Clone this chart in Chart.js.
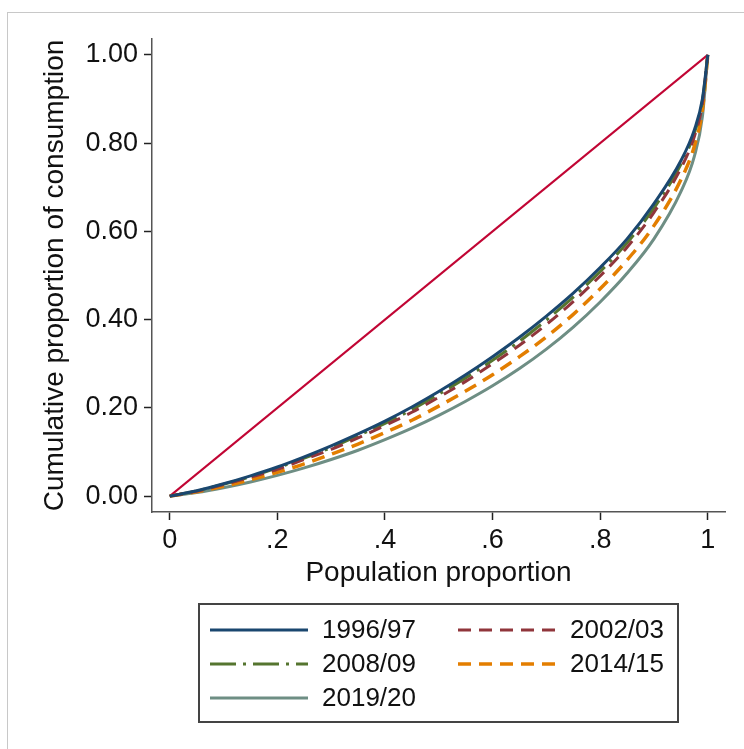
<!DOCTYPE html>
<html>
<head>
<meta charset="utf-8">
<title>Lorenz curves of consumption</title>
<script src="https://cdn.jsdelivr.net/npm/chart.js@4.4.1/dist/chart.umd.min.js"></script>
<style>
  html, body { margin: 0; padding: 0; background: #fff; }
  #wrap { position: relative; width: 744px; height: 749px; overflow: hidden; }
  #frame { position: absolute; left: 7px; top: 12px; width: 800px; height: 800px;
           border-left: 1px solid #c8c8c8; border-top: 1px solid #c8c8c8; }
  #chart { position: absolute; left: 0; top: 0; }
</style>
</head>
<body>
<div id="wrap">
  <div id="frame"></div>
  <canvas id="chart" width="744" height="749"></canvas>
</div>
<script>
// population proportion (x) for every curve
const popShare = [0, 0.05, 0.1, 0.15, 0.2, 0.25, 0.3, 0.35, 0.4, 0.45, 0.5, 0.55, 0.6, 0.65, 0.7, 0.75, 0.8, 0.85, 0.9, 0.95, 0.975, 0.99, 1];

// cumulative proportion of consumption
const y1996 = [0, .012, .028, .046, .066, .089, .114, .141, .170, .202, .237, .275, .316, .360, .408, .460, .518, .583, .663, .760, .830, .900, 1];
const y2002 = [0, .011, .026, .043, .061, .083, .106, .132, .160, .190, .224, .260, .300, .342, .389, .441, .499, .564, .643, .743, .815, .890, 1];
const y2008 = [0, .012, .027, .044, .064, .086, .110, .137, .165, .196, .231, .268, .308, .351, .399, .451, .509, .574, .653, .752, .823, .895, 1];
const y2014 = [0, .010, .022, .037, .054, .073, .095, .118, .144, .172, .204, .238, .275, .316, .361, .412, .470, .535, .613, .717, .793, .875, 1];
const y2019 = [0, .008, .019, .032, .047, .064, .083, .104, .128, .154, .183, .215, .250, .289, .333, .383, .440, .505, .583, .690, .770, .860, 1];

// line of equality
const equalX = [0, 1];
const equalY = [0, 1];

const xTicks = [0, 0.2, 0.4, 0.6, 0.8, 1];
const yTicks = [0, 0.2, 0.4, 0.6, 0.8, 1];

const FONT = '"Liberation Sans", Arial, sans-serif';

function pts(xs, ys) {
    return xs.map((x, i) => ({ x: x, y: ys[i] }));
}

function serie(label, ys, color, dash, width) {
    return {
        label: label,
        data: pts(popShare, ys),
        borderColor: color,
        borderWidth: width,
        borderDash: dash,
        pointRadius: 0,
        cubicInterpolationMode: "monotone",
        fill: false
    };
}

// legend drawn as a framed box with two columns
const legendBox = {
    id: "legendBox",
    afterDraw(chart) {
        const ctx = chart.ctx;
        const items = chart.data.datasets.filter(ds => ds.label !== "Equality");
        ctx.save();
        ctx.strokeStyle = "#444";
        ctx.lineWidth = 2;
        ctx.strokeRect(199, 604, 479, 118);
        items.forEach((ds, i) => {
            const col = i % 2;
            const row = Math.floor(i / 2);
            const x0 = col === 0 ? 210 : 458;
            const y = 630 + row * 34;
            ctx.beginPath();
            ctx.setLineDash(ds.borderDash || []);
            ctx.strokeStyle = ds.borderColor;
            ctx.lineWidth = ds.borderWidth;
            ctx.moveTo(x0, y);
            ctx.lineTo(x0 + 98, y);
            ctx.stroke();
            ctx.setLineDash([]);
            ctx.fillStyle = "#111";
            ctx.font = "26px " + FONT;
            ctx.textBaseline = "middle";
            ctx.fillText(ds.label, x0 + 112, y + 1);
        });
        ctx.restore();
    }
};

const ctx = document.getElementById("chart").getContext("2d");
new Chart(ctx, {
    type: "line",
    data: {
        datasets: [
            serie("1996/97", y1996, "#1a476f", [], 3),
            serie("2002/03", y2002, "#90353b", [13, 8], 3),
            serie("2008/09", y2008, "#55752f", [26, 7, 3, 7], 3),
            serie("2014/15", y2014, "#e37e00", [13, 8], 3.5),
            serie("2019/20", y2019, "#6e8e84", [], 3),
            {
                label: "Equality",
                data: pts(equalX, equalY),
                borderColor: "#c10534",
                borderWidth: 2,
                pointRadius: 0,
                fill: false
            }
        ]
    },
    options: {
        responsive: false,
        devicePixelRatio: 1,
        animation: false,
        layout: { padding: { left: 0, top: 39, right: 19, bottom: 157 } },
        plugins: {
            legend: { display: false },
            tooltip: { enabled: false }
        },
        scales: {
            x: {
                type: "linear",
                min: -0.033,
                max: 1.032,
                afterFit: s => { s.height = 80; },
                afterBuildTicks: s => { s.ticks = xTicks.map(v => ({ value: v })); },
                ticks: {
                    autoSkip: false,
                    maxRotation: 0,
                    padding: 4,
                    color: "#111",
                    font: { family: FONT, size: 27 },
                    callback: v => v === 0 ? "0" : v === 1 ? "1" : v.toFixed(1).replace(/^0/, "")
                },
                grid: { drawOnChartArea: false, drawTicks: true, tickLength: 8, tickColor: "#222", tickWidth: 1.5 },
                border: { display: true, color: "#555", width: 1.5 },
                title: {
                    display: true,
                    text: "Population proportion",
                    color: "#111",
                    font: { family: FONT, size: 28 },
                    padding: { top: 0, bottom: 2 }
                }
            },
            y: {
                type: "linear",
                min: -0.036,
                max: 1.036,
                afterFit: s => { s.width = 152; },
                afterBuildTicks: s => { s.ticks = yTicks.map(v => ({ value: v })); },
                ticks: {
                    autoSkip: false,
                    padding: 6,
                    color: "#111",
                    font: { family: FONT, size: 27 },
                    callback: v => v.toFixed(2)
                },
                grid: { drawOnChartArea: false, drawTicks: true, tickLength: 8, tickColor: "#222", tickWidth: 1.5 },
                border: { display: true, color: "#555", width: 1.5 },
                title: {
                    display: true,
                    text: "Cumulative proportion of consumption",
                    color: "#111",
                    font: { family: FONT, size: 28 },
                    padding: { top: 38, bottom: 0 }
                }
            }
        }
    },
    plugins: [legendBox]
});
</script>
</body>
</html>
